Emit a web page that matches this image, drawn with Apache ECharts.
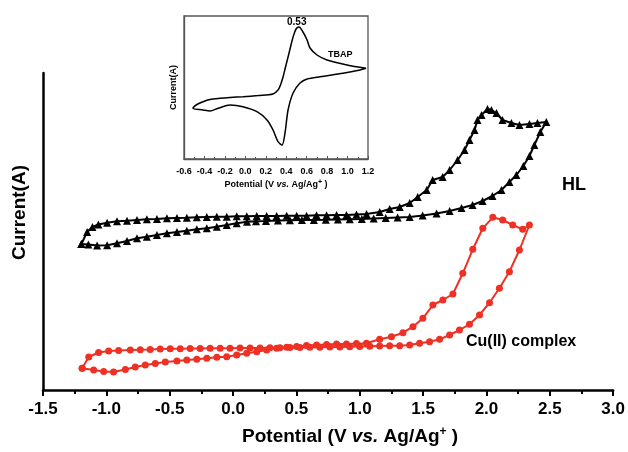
<!DOCTYPE html>
<html>
<head>
<meta charset="utf-8">
<script src="https://cdn.jsdelivr.net/npm/echarts@6/dist/echarts.min.js"></script>
<style>
  html, body { margin: 0; padding: 0; background: #fff; }
  #chart { width: 628px; height: 452px; }
</style>
</head>
<body>
<div id="chart"></div>
<script>
// HL ligand (black triangles), potential in V, current in arbitrary units
const hlPotential = [-1.197, -1.152, -1.110, -1.063, -0.994, -0.916, -0.837, -0.758, -0.680, -0.601, -0.522, -0.443, -0.365, -0.286, -0.207, -0.128, -0.050, 0.029, 0.108, 0.187, 0.265, 0.344, 0.423, 0.502, 0.580, 0.659, 0.738, 0.817, 0.895, 0.974, 1.053,
  1.157, 1.236, 1.315, 1.394, 1.457, 1.528, 1.575, 1.654, 1.709, 1.772, 1.827, 1.866, 1.906, 1.929, 1.961, 2.008, 2.039, 2.079, 2.126, 2.197, 2.260, 2.339, 2.402, 2.472,
  2.425, 2.378, 2.339, 2.291, 2.236, 2.181, 2.118, 2.047, 1.969, 1.890, 1.803, 1.709, 1.606, 1.496, 1.394, 1.299, 1.205, 1.110, 1.016, 0.921, 0.827, 0.732, 0.638, 0.543, 0.449, 0.354, 0.260, 0.181, 0.110,
  0.029, -0.050, -0.128, -0.207, -0.286, -0.365, -0.443, -0.522, -0.601, -0.680, -0.758, -0.837, -0.916, -0.994, -1.073, -1.142, -1.197];
const hlCurrent = [146, 158, 163, 165.5, 167.3, 168.7, 169.3, 170, 170.7, 171, 171.7, 172, 172.3, 172.7, 173, 173.3, 173.3, 173.7, 173.7, 174, 174, 174, 174.3, 174.3, 174.3, 174.7, 174.7, 175, 175, 175.5, 176,
  178, 181, 183, 187, 193, 200, 210, 213, 220, 230, 240, 250, 260, 270, 275, 281, 280, 277, 270, 267, 265, 266, 267, 268,
  258, 245, 234, 224, 215, 208, 200, 194, 189, 185, 182, 179, 176.5, 174.5, 173, 172.5, 172, 171.5, 171, 170.7, 170.5, 170.2, 170, 170, 169.7, 169.5, 169, 168.7, 168.3,
  166.7, 165, 163.3, 161.7, 160.7, 159.3, 158, 156.7, 155, 153.3, 151.7, 149, 146.7, 144.7, 144.5, 145.5, 146];

// Cu(II) complex (red circles)
const cuPotential = [-1.191, -1.100, -1.021, -0.943, -0.850, -0.772, -0.693, -0.614, -0.535, -0.443, -0.365, -0.286, -0.207, -0.128, -0.050, 0.029, 0.108, 0.187, 0.265, 0.344, 0.423, 0.502, 0.580, 0.659, 0.738, 0.817, 0.895, 0.974, 1.053,
  1.157, 1.250, 1.341, 1.420, 1.498, 1.577, 1.656, 1.735, 1.813, 1.892, 1.971, 2.050, 2.128, 2.207, 2.286, 2.339,
  2.260, 2.181, 2.102, 2.024, 1.945, 1.866, 1.787, 1.709, 1.630, 1.551, 1.472, 1.394, 1.315, 1.236, 1.157, 1.079, 1.000, 0.921, 0.843, 0.764, 0.685, 0.606, 0.528, 0.449, 0.370, 0.291, 0.213, 0.134, 0.055,
  -0.024, -0.102, -0.181, -0.260, -0.339, -0.417, -0.496, -0.575, -0.654, -0.732, -0.811, -0.903, -0.982, -1.061, -1.139, -1.191];
const cuCurrent = [21.7, 20, 18.5, 18, 20.5, 23, 25, 26.5, 28, 29, 30, 30.7, 31.7, 32.7, 33.3, 35, 36.7, 38.3, 40, 41.7, 42.7, 43.5, 44.5, 45, 45.5, 46, 46, 46.5, 46.7,
  50.7, 53.3, 57.3, 63.3, 71.7, 85, 90, 96, 116.7, 140.7, 161.7, 172.7, 170, 165, 160.7, 165,
  140, 118.3, 101.7, 87.3, 75, 65.7, 60, 55, 50.7, 48.3, 46.7, 45, 44.3, 44.3, 44, 43.7, 43.5, 43.3, 43, 43, 42.8, 42.7, 42.5, 42.5, 42.3, 42.2, 42, 42, 42,
  41.8, 41.7, 41.7, 41.5, 41.5, 41.3, 41.2, 41, 40.5, 40.3, 40, 39.5, 39, 37.5, 33, 21.7];

// inset: TBAP
const tbapPotential = [1.181, 0.995, 0.799, 0.701, 0.633, 0.604, 0.564, 0.525, 0.496, 0.467, 0.442, 0.418, 0.393, 0.369, 0.344, 0.320, 0.271, 0.124, -0.023, -0.150, -0.248, -0.346, -0.414, -0.473, -0.512,
  -0.414, -0.346, -0.267, -0.150, -0.023, 0.114, 0.212, 0.271, 0.320, 0.359, 0.388, 0.418, 0.467, 0.535, 0.604, 0.731, 0.956, 1.122, 1.181];
const tbapCurrent = [90.7, 94, 99, 104, 111, 119, 127, 132, 130, 122, 112, 102, 92, 82, 74, 69, 65, 63.5, 62.3, 61.5, 60.7, 59.5, 57.3, 54.5, 50.7,
  49, 48, 50.7, 54, 52.3, 47.3, 39, 29, 17.3, 14, 26, 49, 66, 76, 80, 82.3, 85.7, 89, 90.7];

const mainTicks = {min: -1.5, max: 3.0, step: 0.5};
const insetTicks = {min: -0.6, max: 1.2, step: 0.2};

let zip = (xs, ys) => xs.map((x, i) => [x, ys[i]]);

const font = "'Liberation Sans', Arial, sans-serif";
const red = '#ee3124';

let chart = echarts.init(document.getElementById('chart'));

let option = {
  animation: false,
  grid: [
    {left: 43, right: 14, top: 73, bottom: 62},
    {left: 184, top: 16, width: 184, height: 143, show: true, borderColor: '#555', borderWidth: 1.3, backgroundColor: '#fff'}
  ],
  xAxis: [
    {
      type: 'value', gridIndex: 0,
      min: mainTicks.min, max: mainTicks.max, interval: mainTicks.step,
      name: 'Potential (V {i|vs.} Ag/Ag{sup|+} )',
      nameLocation: 'middle', nameGap: 36,
      nameTextStyle: {
        fontFamily: font, fontWeight: 'bold', fontSize: 19, color: '#000', padding: [0, 0, 0, 44],
        rich: {
          i: {fontFamily: font, fontWeight: 'bold', fontStyle: 'italic', fontSize: 19, color: '#000'},
          sup: {fontFamily: font, fontWeight: 'bold', fontSize: 12, color: '#000', verticalAlign: 'top', padding: [0, 0, 9, 0]}
        }
      },
      axisLine: {onZero: false, lineStyle: {color: '#000', width: 2.5}},
      axisTick: {inside: false, length: 6, lineStyle: {color: '#000', width: 2}},
      minorTick: {show: true, splitNumber: 2, length: 4, lineStyle: {color: '#000', width: 2}},
      axisLabel: {fontFamily: font, fontWeight: 'bold', fontSize: 17, color: '#000', margin: 11,
        formatter: v => v.toFixed(1)},
      splitLine: {show: false}
    },
    {
      type: 'value', gridIndex: 1,
      min: insetTicks.min, max: insetTicks.max, interval: insetTicks.step,
      name: 'Potential (V {i|vs.} Ag/Ag{sup|+} )',
      nameLocation: 'middle', nameGap: 20,
      nameTextStyle: {
        fontFamily: font, fontWeight: 'bold', fontSize: 9, color: '#000',
        rich: {
          i: {fontFamily: font, fontWeight: 'bold', fontStyle: 'italic', fontSize: 9, color: '#000'},
          sup: {fontFamily: font, fontWeight: 'bold', fontSize: 7, color: '#000', verticalAlign: 'top', padding: [0, 0, 4, 0]}
        }
      },
      axisLine: {onZero: false, lineStyle: {color: '#555', width: 1.3}},
      axisTick: {inside: true, length: 3, lineStyle: {color: '#555', width: 1}},
      minorTick: {show: true, splitNumber: 2, length: 2, lineStyle: {color: '#555', width: 1}},
      axisLabel: {fontFamily: font, fontWeight: 'bold', fontSize: 9, color: '#000', margin: 8,
        formatter: v => v.toFixed(1)},
      splitLine: {show: false}
    }
  ],
  yAxis: [
    {
      type: 'value', gridIndex: 0, min: 0, max: 317,
      name: 'Current(A)', nameLocation: 'middle', nameGap: 14,
      nameTextStyle: {fontFamily: font, fontWeight: 'bold', fontSize: 19, color: '#000', padding: [0, 0, 0, 38]},
      axisLine: {show: true, onZero: false, lineStyle: {color: '#000', width: 2.5}},
      axisTick: {show: false},
      axisLabel: {show: false},
      splitLine: {show: false}
    },
    {
      type: 'value', gridIndex: 1, min: 0, max: 143,
      name: 'Current(A)', nameLocation: 'middle', nameGap: 6,
      nameTextStyle: {fontFamily: font, fontWeight: 'bold', fontSize: 9, color: '#000'},
      axisLine: {show: true, onZero: false, lineStyle: {color: '#555', width: 1.3}},
      axisTick: {show: false},
      axisLabel: {show: false},
      splitLine: {show: false}
    }
  ],
  series: [
    {
      name: 'HL', type: 'line', xAxisIndex: 0, yAxisIndex: 0,
      data: zip(hlPotential, hlCurrent),
      symbol: 'triangle', symbolSize: 8,
      lineStyle: {color: '#000', width: 2},
      itemStyle: {color: '#000'}
    },
    {
      name: 'Cu(II) complex', type: 'line', xAxisIndex: 0, yAxisIndex: 0,
      data: zip(cuPotential, cuCurrent),
      symbol: 'circle', symbolSize: 7,
      lineStyle: {color: red, width: 2},
      itemStyle: {color: red}
    },
    {
      name: 'TBAP', type: 'line', xAxisIndex: 1, yAxisIndex: 1,
      data: zip(tbapPotential, tbapCurrent),
      showSymbol: false, smooth: 0.3,
      lineStyle: {color: '#000', width: 1.5}
    }
  ],
  graphic: [
    {type: 'text', left: 562, top: 176, style: {text: 'HL', font: 'bold 18px ' + font, fill: '#000'}},
    {type: 'text', left: 466, top: 334, style: {text: 'Cu(II) complex', font: 'bold 16px ' + font, fill: '#000'}},
    {type: 'text', left: 287, top: 17, style: {text: '0.53', font: 'bold 10px ' + font, fill: '#000'}},
    {type: 'text', left: 328, top: 50, style: {text: 'TBAP', font: 'bold 9px ' + font, fill: '#000'}}
  ]
};

chart.setOption(option);
</script>
</body>
</html>
